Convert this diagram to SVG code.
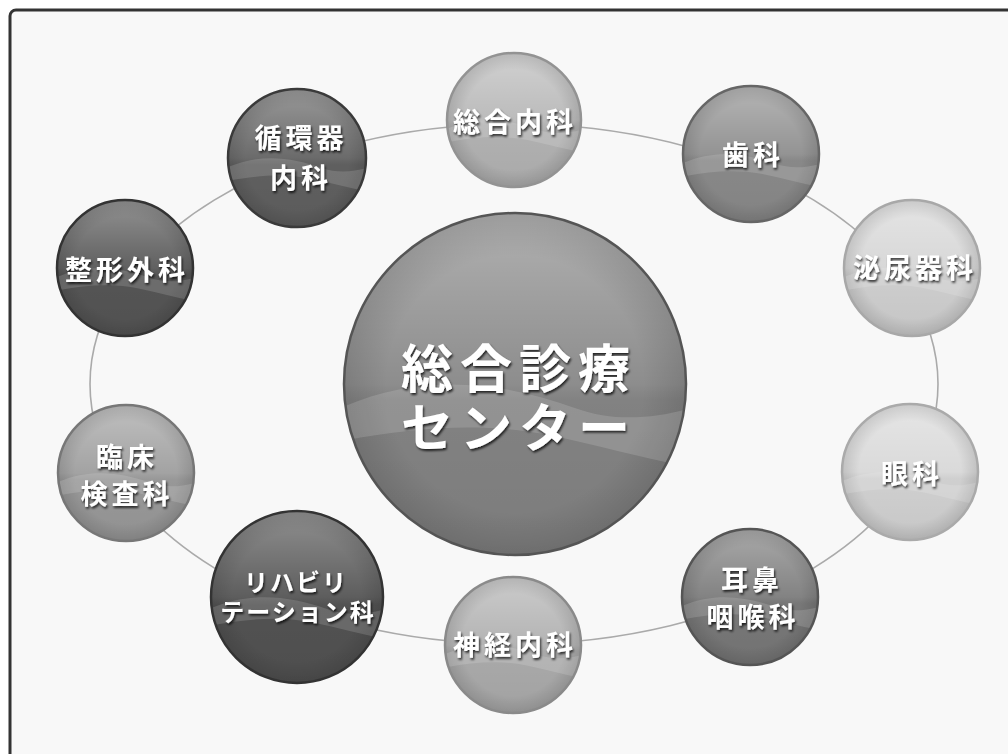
<svg xmlns="http://www.w3.org/2000/svg" xmlns:xlink="http://www.w3.org/1999/xlink" width="1008" height="754" viewBox="0 0 1008 754">
<defs>
<style>
.lbl{font-family:"Liberation Sans","Noto Sans CJK JP","Noto Sans CJK SC",sans-serif;font-weight:bold;fill:#fff;text-anchor:middle;filter:url(#sh);}
.s{font-size:27px;letter-spacing:4px;}
.r{font-size:24px;letter-spacing:2px;}
.big{font-size:52px;letter-spacing:7px;}
.rim{fill:none;stroke-width:2.5;}
.ring{fill:none;stroke:#aaaaaa;stroke-width:1.6;}
</style>
<filter id="sh" x="-20%" y="-30%" width="140%" height="160%">
<feDropShadow dx="1.2" dy="2" stdDeviation="1.2" flood-color="#000" flood-opacity="0.75"/>
</filter>
<linearGradient id="shine" x1="0" y1="0" x2="0" y2="1">
<stop offset="0" stop-color="#fff" stop-opacity="0.35"/>
<stop offset="0.5" stop-color="#fff" stop-opacity="0.05"/>
<stop offset="0.55" stop-color="#000" stop-opacity="0.04"/>
<stop offset="1" stop-color="#000" stop-opacity="0.08"/>
</linearGradient>
<radialGradient id="edge" cx="0.5" cy="0.5" r="0.5">
<stop offset="0.75" stop-color="#000" stop-opacity="0"/>
<stop offset="1" stop-color="#000" stop-opacity="0.12"/>
</radialGradient>
<clipPath id="uc"><circle cx="0" cy="0" r="1"/></clipPath>
<g id="gloss">
<circle cx="0" cy="0" r="1" fill="url(#shine)"/>
<circle cx="0" cy="0" r="1" fill="url(#edge)"/>
<g clip-path="url(#uc)">
<path d="M-1.1,0.18 C-0.6,-0.08 -0.1,-0.02 0.35,0.14 C0.6,0.23 0.85,0.2 1.1,0.12 L1.1,0.5 C0.8,0.45 0.5,0.36 0.2,0.3 C-0.2,0.22 -0.6,0.25 -1.1,0.35 Z" fill="#fff" fill-opacity="0.14"/>
</g>
</g>
</defs>
<rect x="0" y="0" width="1008" height="754" fill="#ffffff"/>
<rect x="10" y="10" width="1020" height="770" rx="6" fill="#f8f8f8" stroke="#333333" stroke-width="3"/>
<g id="connectors">
<ellipse class="ring" cx="514" cy="384" rx="424" ry="260"/>
</g>
<g id="center">
<circle cx="515" cy="384" r="171" fill="#878787"/>
<use xlink:href="#gloss" transform="translate(515,384) scale(171)"/>
<circle class="rim" cx="515" cy="384" r="171" stroke="#555555"/>
<text class="lbl big"><tspan x="519" y="388">総合診療</tspan><tspan x="519" y="447">センター</tspan></text>
</g>
<g id="n-sougounaika">
<circle cx="514" cy="120" r="67" fill="#b8b8b8"/>
<use xlink:href="#gloss" transform="translate(514,120) scale(67)"/>
<circle class="rim" cx="514" cy="120" r="67" stroke="#939393"/>
<text class="lbl s" x="515" y="132">総合内科</text>
</g>
<g id="n-shika">
<circle cx="751" cy="154" r="68" fill="#8e8e8e"/>
<use xlink:href="#gloss" transform="translate(751,154) scale(68)"/>
<circle class="rim" cx="751" cy="154" r="68" stroke="#666666"/>
<text class="lbl s" x="753" y="165">歯科</text>
</g>
<g id="n-hinyouki">
<circle cx="912" cy="268" r="68" fill="#d6d6d6"/>
<use xlink:href="#gloss" transform="translate(912,268) scale(68)"/>
<circle class="rim" cx="912" cy="268" r="68" stroke="#a8a8a8"/>
<text class="lbl s" x="915" y="278">泌尿器科</text>
</g>
<g id="n-ganka">
<circle cx="910" cy="472" r="68" fill="#d8d8d8"/>
<use xlink:href="#gloss" transform="translate(910,472) scale(68)"/>
<circle class="rim" cx="910" cy="472" r="68" stroke="#aaaaaa"/>
<text class="lbl s" x="912" y="484">眼科</text>
</g>
<g id="n-jibiinkou">
<circle cx="750" cy="597" r="68" fill="#7c7c7c"/>
<use xlink:href="#gloss" transform="translate(750,597) scale(68)"/>
<circle class="rim" cx="750" cy="597" r="68" stroke="#555555"/>
<text class="lbl s"><tspan x="752" y="590">耳鼻</tspan><tspan x="753" y="627">咽喉科</tspan></text>
</g>
<g id="n-shinkeinaika">
<circle cx="513" cy="645" r="68" fill="#b0b0b0"/>
<use xlink:href="#gloss" transform="translate(513,645) scale(68)"/>
<circle class="rim" cx="513" cy="645" r="68" stroke="#8a8a8a"/>
<text class="lbl s" x="515" y="655">神経内科</text>
</g>
<g id="n-rehabili">
<circle cx="297" cy="597" r="86" fill="#555555"/>
<use xlink:href="#gloss" transform="translate(297,597) scale(86)"/>
<circle class="rim" cx="297" cy="597" r="86" stroke="#333333"/>
<text class="lbl r"><tspan x="296" y="591">リハビリ</tspan><tspan x="298" y="621">テーション科</tspan></text>
</g>
<g id="n-rinshou">
<circle cx="126" cy="473" r="68" fill="#9e9e9e"/>
<use xlink:href="#gloss" transform="translate(126,473) scale(68)"/>
<circle class="rim" cx="126" cy="473" r="68" stroke="#777777"/>
<text class="lbl s"><tspan x="127" y="467">臨床</tspan><tspan x="127" y="504">検査科</tspan></text>
</g>
<g id="n-seikei">
<circle cx="125" cy="268" r="68" fill="#585858"/>
<use xlink:href="#gloss" transform="translate(125,268) scale(68)"/>
<circle class="rim" cx="125" cy="268" r="68" stroke="#333333"/>
<text class="lbl s" x="127" y="280">整形外科</text>
</g>
<g id="n-junkanki">
<circle cx="297" cy="158" r="69" fill="#636363"/>
<use xlink:href="#gloss" transform="translate(297,158) scale(69)"/>
<circle class="rim" cx="297" cy="158" r="69" stroke="#3a3a3a"/>
<text class="lbl s"><tspan x="301" y="148">循環器</tspan><tspan x="301" y="188">内科</tspan></text>
</g>
</svg>
